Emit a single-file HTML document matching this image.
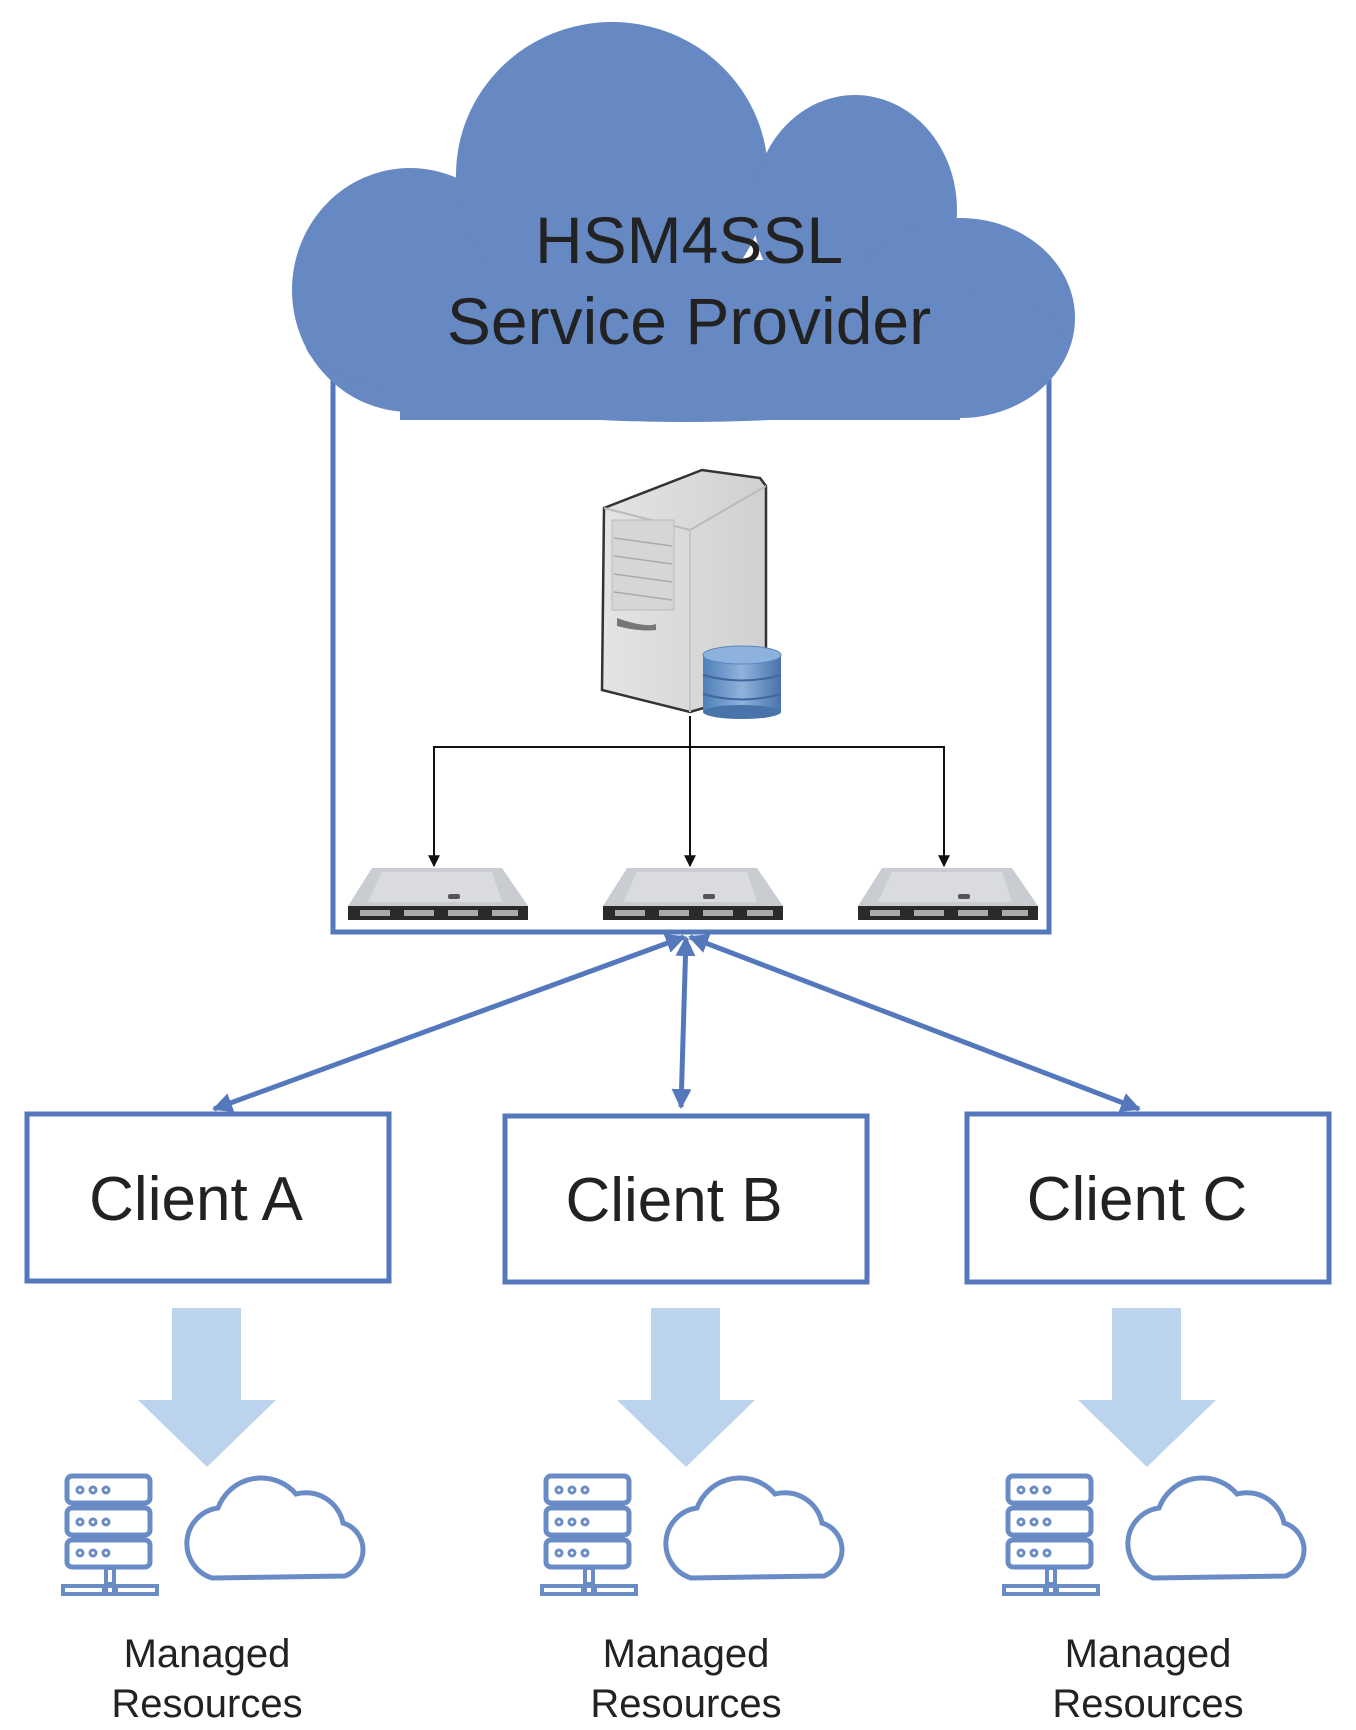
<!DOCTYPE html>
<html><head><meta charset="utf-8"><style>
html,body{margin:0;padding:0;background:#fff;}
svg{display:block;}
text{font-family:"Liberation Sans",Arial,sans-serif;}
</style></head><body>
<svg width="1356" height="1730" viewBox="0 0 1356 1730" xmlns="http://www.w3.org/2000/svg">
<defs>
<marker id="ba" viewBox="0 0 10 10" refX="9" refY="5" markerWidth="4" markerHeight="4" orient="auto-start-reverse" markerUnits="strokeWidth"><path d="M0,0 L10,5 L0,10 z" fill="#5478bb"/></marker>
<marker id="ka" viewBox="0 0 10 10" refX="9" refY="5" markerWidth="12" markerHeight="12" orient="auto" markerUnits="userSpaceOnUse"><path d="M0,0 L10,5 L0,10 z" fill="#111"/></marker>
<linearGradient id="tw" x1="0" x2="1"><stop offset="0" stop-color="#e4e4e4"/><stop offset="1" stop-color="#d0d0d0"/></linearGradient>
<linearGradient id="db" x1="0" x2="1"><stop offset="0" stop-color="#4f7fb8"/><stop offset="0.5" stop-color="#8fb3dc"/><stop offset="1" stop-color="#4873ab"/></linearGradient>
<g id="rack">
<polygon points="20,0 150,0 176,38 -4,38" fill="#c9ccd1"/>
<polygon points="30,4 140,4 150,34 16,34" fill="#d9dbdf"/>
<rect x="-4" y="38" width="180" height="14" fill="#2a2a2a"/>
<rect x="8" y="42" width="30" height="6" fill="#aaa"/>
<rect x="52" y="42" width="30" height="6" fill="#aaa"/>
<rect x="96" y="42" width="30" height="6" fill="#aaa"/>
<rect x="140" y="42" width="26" height="6" fill="#aaa"/>
<rect x="96" y="26" width="12" height="5" rx="2" fill="#555"/>
</g>
<g id="res" fill="none" stroke="#6a8cc6" stroke-width="5">
<rect x="67" y="1476" width="83" height="27" rx="5"/>
<rect x="67" y="1508" width="83" height="27" rx="5"/>
<rect x="67" y="1540" width="83" height="27" rx="5"/>
<g stroke-width="3"><circle cx="80" cy="1490" r="3"/><circle cx="93" cy="1490" r="3"/><circle cx="106" cy="1490" r="3"/>
<circle cx="80" cy="1522" r="3"/><circle cx="93" cy="1522" r="3"/><circle cx="106" cy="1522" r="3"/>
<circle cx="80" cy="1553" r="3"/><circle cx="93" cy="1553" r="3"/><circle cx="106" cy="1553" r="3"/></g>
<rect x="106" y="1568" width="8" height="16" stroke-width="4"/>
<rect x="63" y="1586" width="41" height="8" stroke-width="4"/>
<rect x="106" y="1586" width="8" height="8" stroke-width="4"/>
<rect x="116" y="1586" width="41" height="8" stroke-width="4"/>
<path d="M212,1578 A36,36 0 0 1 218,1508 A46,46 0 0 1 296,1494 A38,38 0 0 1 343,1523 A28,28 0 0 1 345,1576 Z"/>
<text x="207" y="1667" font-size="40" fill="#222" stroke="none" text-anchor="middle">Managed</text>
<text x="207" y="1717" font-size="40" fill="#222" stroke="none" text-anchor="middle">Resources</text>
</g>
<g id="fat"><polygon points="172,1308 241,1308 241,1400 276,1400 207,1467 138,1400 172,1400" fill="#bcd3ed"/></g>
</defs>

<rect x="333" y="370" width="716" height="562" fill="none" stroke="#5478bb" stroke-width="5"/>

<g fill="#6689c3">
<ellipse cx="410" cy="290" rx="118" ry="122"/>
<ellipse cx="612" cy="175" rx="156" ry="153"/>
<ellipse cx="855" cy="210" rx="102" ry="115"/>
<ellipse cx="960" cy="318" rx="115" ry="100"/>
<ellipse cx="685" cy="342" rx="380" ry="80"/>
<rect x="400" y="260" width="560" height="160"/>
</g>
<text x="689" y="263" font-size="66" fill="#222" text-anchor="middle">HSM4SSL</text>
<text x="689" y="344" font-size="66" fill="#222" text-anchor="middle">Service Provider</text>

<path d="M604,508 L702,470 L760,478 L766,486 L766,690 L690,712 L602,690 Z" fill="url(#tw)" stroke="#333" stroke-width="2.5"/>
<path d="M604,508 L690,530 L766,486" fill="none" stroke="#bbb" stroke-width="2"/>
<path d="M690,530 L690,712" stroke="#c5c5c5" stroke-width="2"/>
<rect x="612" y="520" width="62" height="90" fill="#d6d6d6" stroke="#bbb"/>
<path d="M614,538 L672,546 M614,556 L672,564 M614,574 L672,582 M614,592 L672,600" stroke="#aaa" stroke-width="1.5"/>
<path d="M617,618 Q645,628 656,624 L656,630 Q640,632 617,626 Z" fill="#777"/>
<rect x="703" y="655" width="78" height="57" fill="url(#db)"/>
<ellipse cx="742" cy="712" rx="39" ry="7" fill="#4873ab"/>
<ellipse cx="742" cy="655" rx="39" ry="9" fill="#8db2de" stroke="#5c86bd"/>
<path d="M703,675 Q742,686 781,675 M703,694 Q742,705 781,694" stroke="#3f679c" stroke-width="2" fill="none"/>

<g stroke="#111" stroke-width="2" fill="none">
<line x1="690" y1="716" x2="690" y2="866" marker-end="url(#ka)"/>
<polyline points="434,866 434,747 944,747 944,866" marker-end="url(#ka)"/>
<line x1="434" y1="747" x2="434" y2="866" marker-end="url(#ka)"/>
</g>
<use href="#rack" x="352" y="868"/>
<use href="#rack" x="607" y="868"/>
<use href="#rack" x="862" y="868"/>

<g stroke="#5478bb" stroke-width="5" fill="none">
<line x1="214" y1="1109" x2="684" y2="937" marker-start="url(#ba)" marker-end="url(#ba)"/>
<line x1="681" y1="1107" x2="686" y2="938" marker-start="url(#ba)" marker-end="url(#ba)"/>
<line x1="1139" y1="1109" x2="690" y2="937" marker-start="url(#ba)" marker-end="url(#ba)"/>
</g>

<g fill="#fff" stroke="#5478bb" stroke-width="5">
<rect x="27" y="1114" width="362" height="167"/>
<rect x="505" y="1116" width="362" height="166"/>
<rect x="967" y="1114" width="362" height="168"/>
</g>
<g font-size="62" fill="#222" text-anchor="middle">
<text x="196" y="1220">Client A</text>
<text x="674" y="1221">Client B</text>
<text x="1137" y="1220">Client C</text>
</g>

<use href="#fat"/>
<use href="#fat" x="479"/>
<use href="#fat" x="940"/>
<use href="#res"/>
<use href="#res" x="479"/>
<use href="#res" x="941"/>
</svg>
</body></html>
